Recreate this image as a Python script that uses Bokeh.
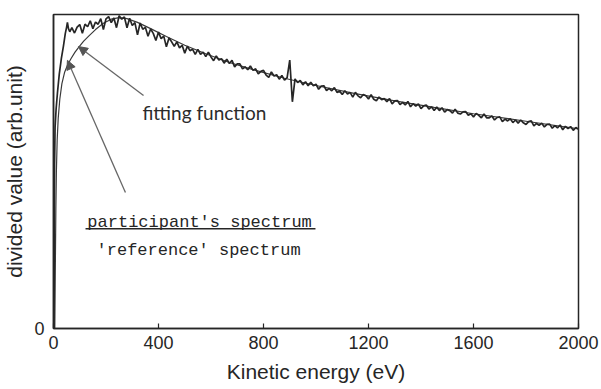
from bokeh.plotting import figure
from bokeh.models import Range1d, FixedTicker, Arrow, NormalHead, Label
from bokeh.embed import file_html
from bokeh.resources import INLINE

# ---------------- data ----------------
# steep onset of the divided spectrum
onset_energy = [2, 3, 4, 6, 10, 15, 22, 30, 38, 45, 50, 53, 57, 62]
onset_value = [0.0, 0.30, 0.52, 0.64, 0.70, 0.75, 0.81, 0.86, 0.90, 0.94, 0.96, 0.975, 0.955, 0.945]

# noisy divided spectrum, sampled every 10 eV from 70 eV to 2000 eV
spectrum_value = [
    0.958, 0.941, 0.960, 0.968, 0.940, 0.969, 0.961, 0.980, 0.955, 0.976,
    0.969, 0.987, 0.952, 0.986, 0.993, 0.974, 0.989, 0.958, 0.996, 0.985,
    0.992, 0.958, 0.988, 0.965, 0.974, 0.935, 0.973, 0.953, 0.959, 0.931,
    0.954, 0.940, 0.917, 0.944, 0.923, 0.931, 0.897, 0.925, 0.913, 0.899,
    0.913, 0.894, 0.902, 0.877, 0.899, 0.885, 0.889, 0.873, 0.889, 0.873,
    0.880, 0.866, 0.880, 0.865, 0.853, 0.868, 0.855, 0.859, 0.845, 0.858,
    0.844, 0.854, 0.833, 0.843, 0.843, 0.827, 0.833, 0.824, 0.836, 0.822,
    0.827, 0.811, 0.819, 0.822, 0.807, 0.800, 0.817, 0.804, 0.808, 0.794,
    0.806, 0.791, 0.799, 0.855, 0.722, 0.795, 0.783, 0.790, 0.776, 0.786,
    0.773, 0.784, 0.773, 0.778, 0.762, 0.772, 0.773, 0.758, 0.765, 0.757,
    0.767, 0.752, 0.756, 0.745, 0.757, 0.747, 0.752, 0.737, 0.752, 0.741,
    0.735, 0.745, 0.741, 0.731, 0.745, 0.730, 0.725, 0.737, 0.729, 0.732,
    0.722, 0.732, 0.715, 0.725, 0.726, 0.713, 0.720, 0.712, 0.723, 0.706,
    0.716, 0.708, 0.715, 0.700, 0.709, 0.712, 0.699, 0.706, 0.694, 0.705,
    0.694, 0.703, 0.689, 0.697, 0.694, 0.686, 0.698, 0.686, 0.683, 0.690,
    0.691, 0.679, 0.684, 0.674, 0.685, 0.679, 0.671, 0.683, 0.671, 0.671,
    0.677, 0.664, 0.672, 0.674, 0.659, 0.667, 0.661, 0.668, 0.656, 0.664,
    0.654, 0.664, 0.655, 0.650, 0.659, 0.661, 0.645, 0.653, 0.647, 0.654,
    0.642, 0.650, 0.651, 0.638, 0.646, 0.639, 0.648, 0.633, 0.644, 0.637,
    0.643, 0.631, 0.640, 0.635,
]
spectrum_energy = [70 + 10 * i for i in range(len(spectrum_value))]

# smooth fitting function
fit_energy = [5, 7, 9, 11, 14, 18, 24, 32, 42, 54, 67, 82, 98, 115, 135, 160, 190, 220,
              250, 280, 320, 370, 430, 500, 580, 670, 770, 880, 1000, 1150, 1300, 1450,
              1600, 1800, 2000]
fit_value = [0.0, 0.20, 0.38, 0.50, 0.60, 0.67, 0.73, 0.78, 0.815, 0.84, 0.86, 0.88, 0.898,
             0.915, 0.932, 0.952, 0.972, 0.985, 0.99, 0.987, 0.975, 0.955, 0.93, 0.902,
             0.875, 0.847, 0.822, 0.797, 0.774, 0.748, 0.725, 0.704, 0.684, 0.66, 0.636]

x_ticks = [0, 400, 800, 1200, 1600, 2000]
y_ticks = [0]

# ---------------- figure ----------------
INK = "#262626"
p = figure(width=601, height=389, output_backend="svg", toolbar_location=None,
           x_range=Range1d(0, 2000), y_range=Range1d(0, 1.0),
           min_border_left=53, min_border_right=23, min_border_top=14, min_border_bottom=61)
p.background_fill_color = "white"
p.border_fill_color = "white"
p.outline_line_color = INK
p.outline_line_width = 1.5
p.xgrid.visible = False
p.ygrid.visible = False

data_e = onset_energy + spectrum_energy
data_v = onset_value + spectrum_value
p.line(fit_energy, fit_value, line_color="#3a3a3a", line_width=1.2)
p.line(data_e, data_v, line_color=INK, line_width=1.7)

# axes
for ax in (p.xaxis[0], p.yaxis[0]):
    ax.axis_line_color = INK
    ax.axis_line_width = 1.5
    ax.minor_tick_line_color = None
    ax.major_label_text_font = "Liberation Sans"
    ax.major_label_text_font_size = "18px"
    ax.major_label_text_color = INK
    ax.axis_label_text_font = "Liberation Sans"
    ax.axis_label_text_font_size = "21px"
    ax.axis_label_text_font_style = "normal"
    ax.axis_label_text_color = INK

p.xaxis.ticker = FixedTicker(ticks=x_ticks)
p.xaxis.major_tick_in = 5
p.xaxis.major_tick_out = 0
p.xaxis.major_tick_line_color = INK
p.xaxis.major_tick_line_width = 1.2
p.xaxis.major_label_standoff = 7
p.xaxis.axis_label = "Kinetic energy (eV)"
p.xaxis.axis_label_standoff = 8

p.yaxis.ticker = FixedTicker(ticks=y_ticks)
p.yaxis.major_tick_line_color = None
p.yaxis.major_tick_in = 0
p.yaxis.major_tick_out = 0
p.yaxis.major_label_standoff = 9
p.yaxis.axis_label = "divided value (arb.unit)"
p.yaxis.axis_label_standoff = 5

# annotations
p.add_layout(Label(x=339, y=0.688, text="fitting function", text_font="Lato",
                   text_font_size="19px", text_color="#2b2b2b", text_baseline="middle"))
p.add_layout(Arrow(end=NormalHead(size=9, fill_color="#555555", line_color="#555555"),
                   x_start=343, y_start=0.742, x_end=95, y_end=0.898,
                   line_color="#666666", line_width=1.3))
p.add_layout(Arrow(end=NormalHead(size=9, fill_color="#555555", line_color="#555555"),
                   x_start=274, y_start=0.433, x_end=53, y_end=0.854,
                   line_color="#666666", line_width=1.3))

p.add_layout(Label(x=129, y=0.3376, text="participant's spectrum", text_font="Liberation Mono",
                   text_font_size="17px", text_color=INK, text_baseline="alphabetic"))
p.add_layout(Label(x=164, y=0.248, text="'reference' spectrum", text_font="Liberation Mono",
                   text_font_size="17px", text_color=INK, text_baseline="alphabetic"))
frac_x = [122, 998]
frac_y = [0.318, 0.318]
p.line(frac_x, frac_y, line_color=INK, line_width=1.5)

open("out.html", "w").write(file_html(p, INLINE))
